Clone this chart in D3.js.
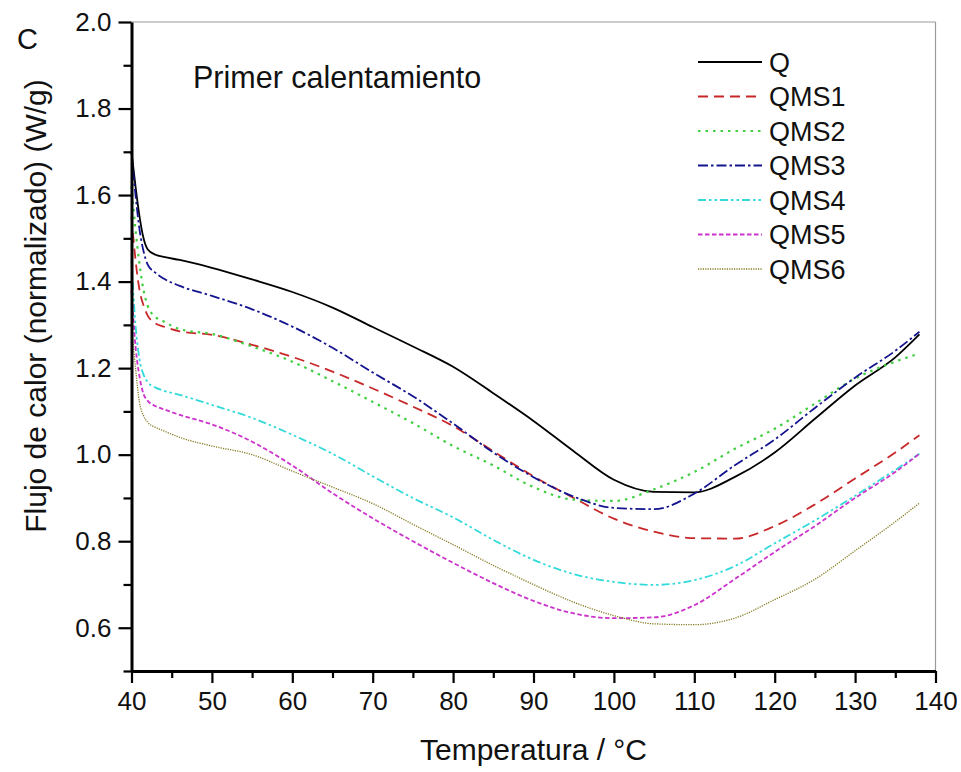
<!DOCTYPE html>
<html>
<head>
<meta charset="utf-8">
<script src="https://cdn.jsdelivr.net/npm/d3@7"></script>
<style>
html,body{margin:0;padding:0;background:#fff;}
svg{display:block;font-family:"Liberation Sans",Arial,sans-serif;}
</style>
</head>
<body>
<svg id="chart" width="961" height="772"></svg>
<script>
const temperature = [40, 40.5, 41, 41.5, 42, 43, 44, 46, 50, 55, 60, 65, 70, 75, 80, 85, 90, 95, 100, 105, 110, 115, 120, 125, 130, 135, 138];
const Q    = [1.70, 1.62, 1.55, 1.50, 1.475, 1.462, 1.457, 1.450, 1.432, 1.405, 1.376, 1.340, 1.295, 1.250, 1.203, 1.142, 1.078, 1.008, 0.942, 0.914, 0.913, 0.948, 1.005, 1.083, 1.160, 1.225, 1.278];
const QMS1 = [1.55, 1.45, 1.38, 1.345, 1.322, 1.303, 1.296, 1.285, 1.277, 1.254, 1.226, 1.192, 1.153, 1.111, 1.066, 1.008, 0.950, 0.900, 0.852, 0.822, 0.807, 0.806, 0.835, 0.885, 0.945, 1.005, 1.045];
const QMS2 = [1.62, 1.52, 1.44, 1.38, 1.345, 1.318, 1.308, 1.290, 1.279, 1.250, 1.215, 1.170, 1.122, 1.073, 1.020, 0.975, 0.925, 0.896, 0.893, 0.920, 0.960, 1.013, 1.060, 1.118, 1.176, 1.215, 1.234];
const QMS3 = [1.70, 1.60, 1.52, 1.47, 1.44, 1.420, 1.407, 1.390, 1.367, 1.336, 1.296, 1.247, 1.190, 1.135, 1.072, 1.005, 0.948, 0.903, 0.877, 0.874, 0.910, 0.975, 1.035, 1.108, 1.178, 1.240, 1.284];
const QMS4 = [1.45, 1.30, 1.22, 1.185, 1.168, 1.155, 1.148, 1.138, 1.115, 1.085, 1.046, 1.002, 0.950, 0.900, 0.855, 0.803, 0.757, 0.724, 0.706, 0.699, 0.710, 0.742, 0.795, 0.848, 0.905, 0.965, 1.002];
const QMS5 = [1.38, 1.25, 1.18, 1.14, 1.125, 1.112, 1.105, 1.092, 1.070, 1.030, 0.975, 0.911, 0.853, 0.800, 0.750, 0.703, 0.662, 0.633, 0.622, 0.624, 0.652, 0.712, 0.775, 0.835, 0.900, 0.960, 1.002];
const QMS6 = [1.30, 1.20, 1.12, 1.09, 1.075, 1.063, 1.055, 1.040, 1.020, 1.000, 0.962, 0.925, 0.887, 0.839, 0.792, 0.744, 0.700, 0.659, 0.628, 0.609, 0.607, 0.622, 0.665, 0.712, 0.778, 0.845, 0.888];

const seriesNames = ["Q", "QMS1", "QMS2", "QMS3", "QMS4", "QMS5", "QMS6"];
const seriesValues = [Q, QMS1, QMS2, QMS3, QMS4, QMS5, QMS6];
const xTicks = [40, 50, 60, 70, 80, 90, 100, 110, 120, 130, 140];
const yTicks = [0.6, 0.8, 1.0, 1.2, 1.4, 1.6, 1.8, 2.0];
const xLabel = "Temperatura / °C";
const yLabel = "Flujo de calor (normalizado) (W/g)";
const annotation = "Primer calentamiento";
const panelLetter = "C";

const styles = [
  {color: "#000000", dash: null, width: 1.8},
  {color: "#c8282a", dash: "10,6", width: 1.8},
  {color: "#3fcf3f", dash: "2.5,5", width: 2.2},
  {color: "#14148f", dash: "10,3,2.5,3", width: 1.8},
  {color: "#33dada", dash: "8,3,2.5,3,2.5,3", width: 1.8},
  {color: "#cc33cc", dash: "4.5,2.5", width: 1.8},
  {color: "#857a20", dash: "1.2,1.2", width: 1.3}
];

const svg = d3.select("#chart");
const L = 131.5, R = 935.5, T = 22, B = 671;
const x = d3.scaleLinear().domain([40, 140]).range([L, R]);
const y = d3.scaleLinear().domain([0.5, 2.0]).range([B, T]);

// frame top/right
svg.append("line").attr("x1", L).attr("x2", R).attr("y1", T).attr("y2", T).attr("stroke", "#9a9a9a").attr("stroke-width", 1.2);
svg.append("line").attr("x1", R).attr("x2", R).attr("y1", T).attr("y2", B).attr("stroke", "#9a9a9a").attr("stroke-width", 1.2);

// curves
const line = d3.line().x(d => x(d[0])).y(d => y(d[1])).curve(d3.curveMonotoneX);
seriesValues.forEach((vals, i) => {
  const pts = temperature.map((t, j) => [t, vals[j]]);
  svg.append("path").datum(pts)
    .attr("d", line)
    .attr("fill", "none")
    .attr("stroke", styles[i].color)
    .attr("stroke-width", styles[i].width)
    .attr("stroke-dasharray", styles[i].dash)
    .attr("stroke-linejoin", "round");
});

// x axis
const xAxis = d3.axisBottom(x).tickValues(xTicks).tickFormat(d3.format("d")).tickSize(12).tickSizeOuter(0).tickPadding(9);
svg.append("g").attr("class", "ax").attr("transform", `translate(0,${B})`).call(xAxis);
const xMinor = d3.axisBottom(x).tickValues(d3.range(45, 140, 10)).tickFormat("").tickSize(7).tickSizeOuter(0);
svg.append("g").attr("class", "ax").attr("transform", `translate(0,${B})`).call(xMinor).select(".domain").remove();

// y axis
const yAxis = d3.axisLeft(y).tickValues(yTicks).tickFormat(d3.format(".1f")).tickSize(13).tickSizeOuter(0).tickPadding(7);
svg.append("g").attr("class", "ax").attr("transform", `translate(${L},0)`).call(yAxis);
const yMinor = d3.axisLeft(y).tickValues([0.5, 0.7, 0.9, 1.1, 1.3, 1.5, 1.7, 1.9]).tickFormat("").tickSize(8).tickSizeOuter(0);
svg.append("g").attr("class", "ax").attr("transform", `translate(${L},0)`).call(yMinor).select(".domain").remove();

svg.selectAll(".ax .domain").style("stroke", "#000").style("stroke-width", "3px");
svg.selectAll(".ax .tick line").style("stroke", "#000").style("stroke-width", "2.2px");
svg.selectAll(".ax .tick text").style("font-size", "26px").style("font-family", "'Liberation Sans', Arial, sans-serif").style("fill", "#111");

// axis titles
svg.append("text").attr("x", (L + R) / 2).attr("y", 760).attr("text-anchor", "middle")
  .attr("font-size", 30).attr("fill", "#111").text(xLabel);
svg.append("text").attr("transform", `translate(46,${306}) rotate(-90)`).attr("text-anchor", "middle")
  .attr("font-size", 30).attr("fill", "#111").text(yLabel);

// panel letter and annotation
svg.append("text").attr("x", 17).attr("y", 49).attr("font-size", 29).attr("fill", "#111").text(panelLetter);
svg.append("text").attr("x", 193).attr("y", 88).attr("font-size", 30.5).attr("fill", "#111").text(annotation);

// legend
const legendY0 = 62, legendStep = 34.5;
seriesNames.forEach((name, i) => {
  const ly = legendY0 + i * legendStep;
  svg.append("line").attr("x1", 698).attr("x2", 762).attr("y1", ly).attr("y2", ly)
    .attr("stroke", styles[i].color).attr("stroke-width", styles[i].width)
    .attr("stroke-dasharray", styles[i].dash);
  svg.append("text").attr("x", 769).attr("y", ly + 9.5).attr("font-size", 27).attr("fill", "#111").text(name);
});
</script>
</body>
</html>
